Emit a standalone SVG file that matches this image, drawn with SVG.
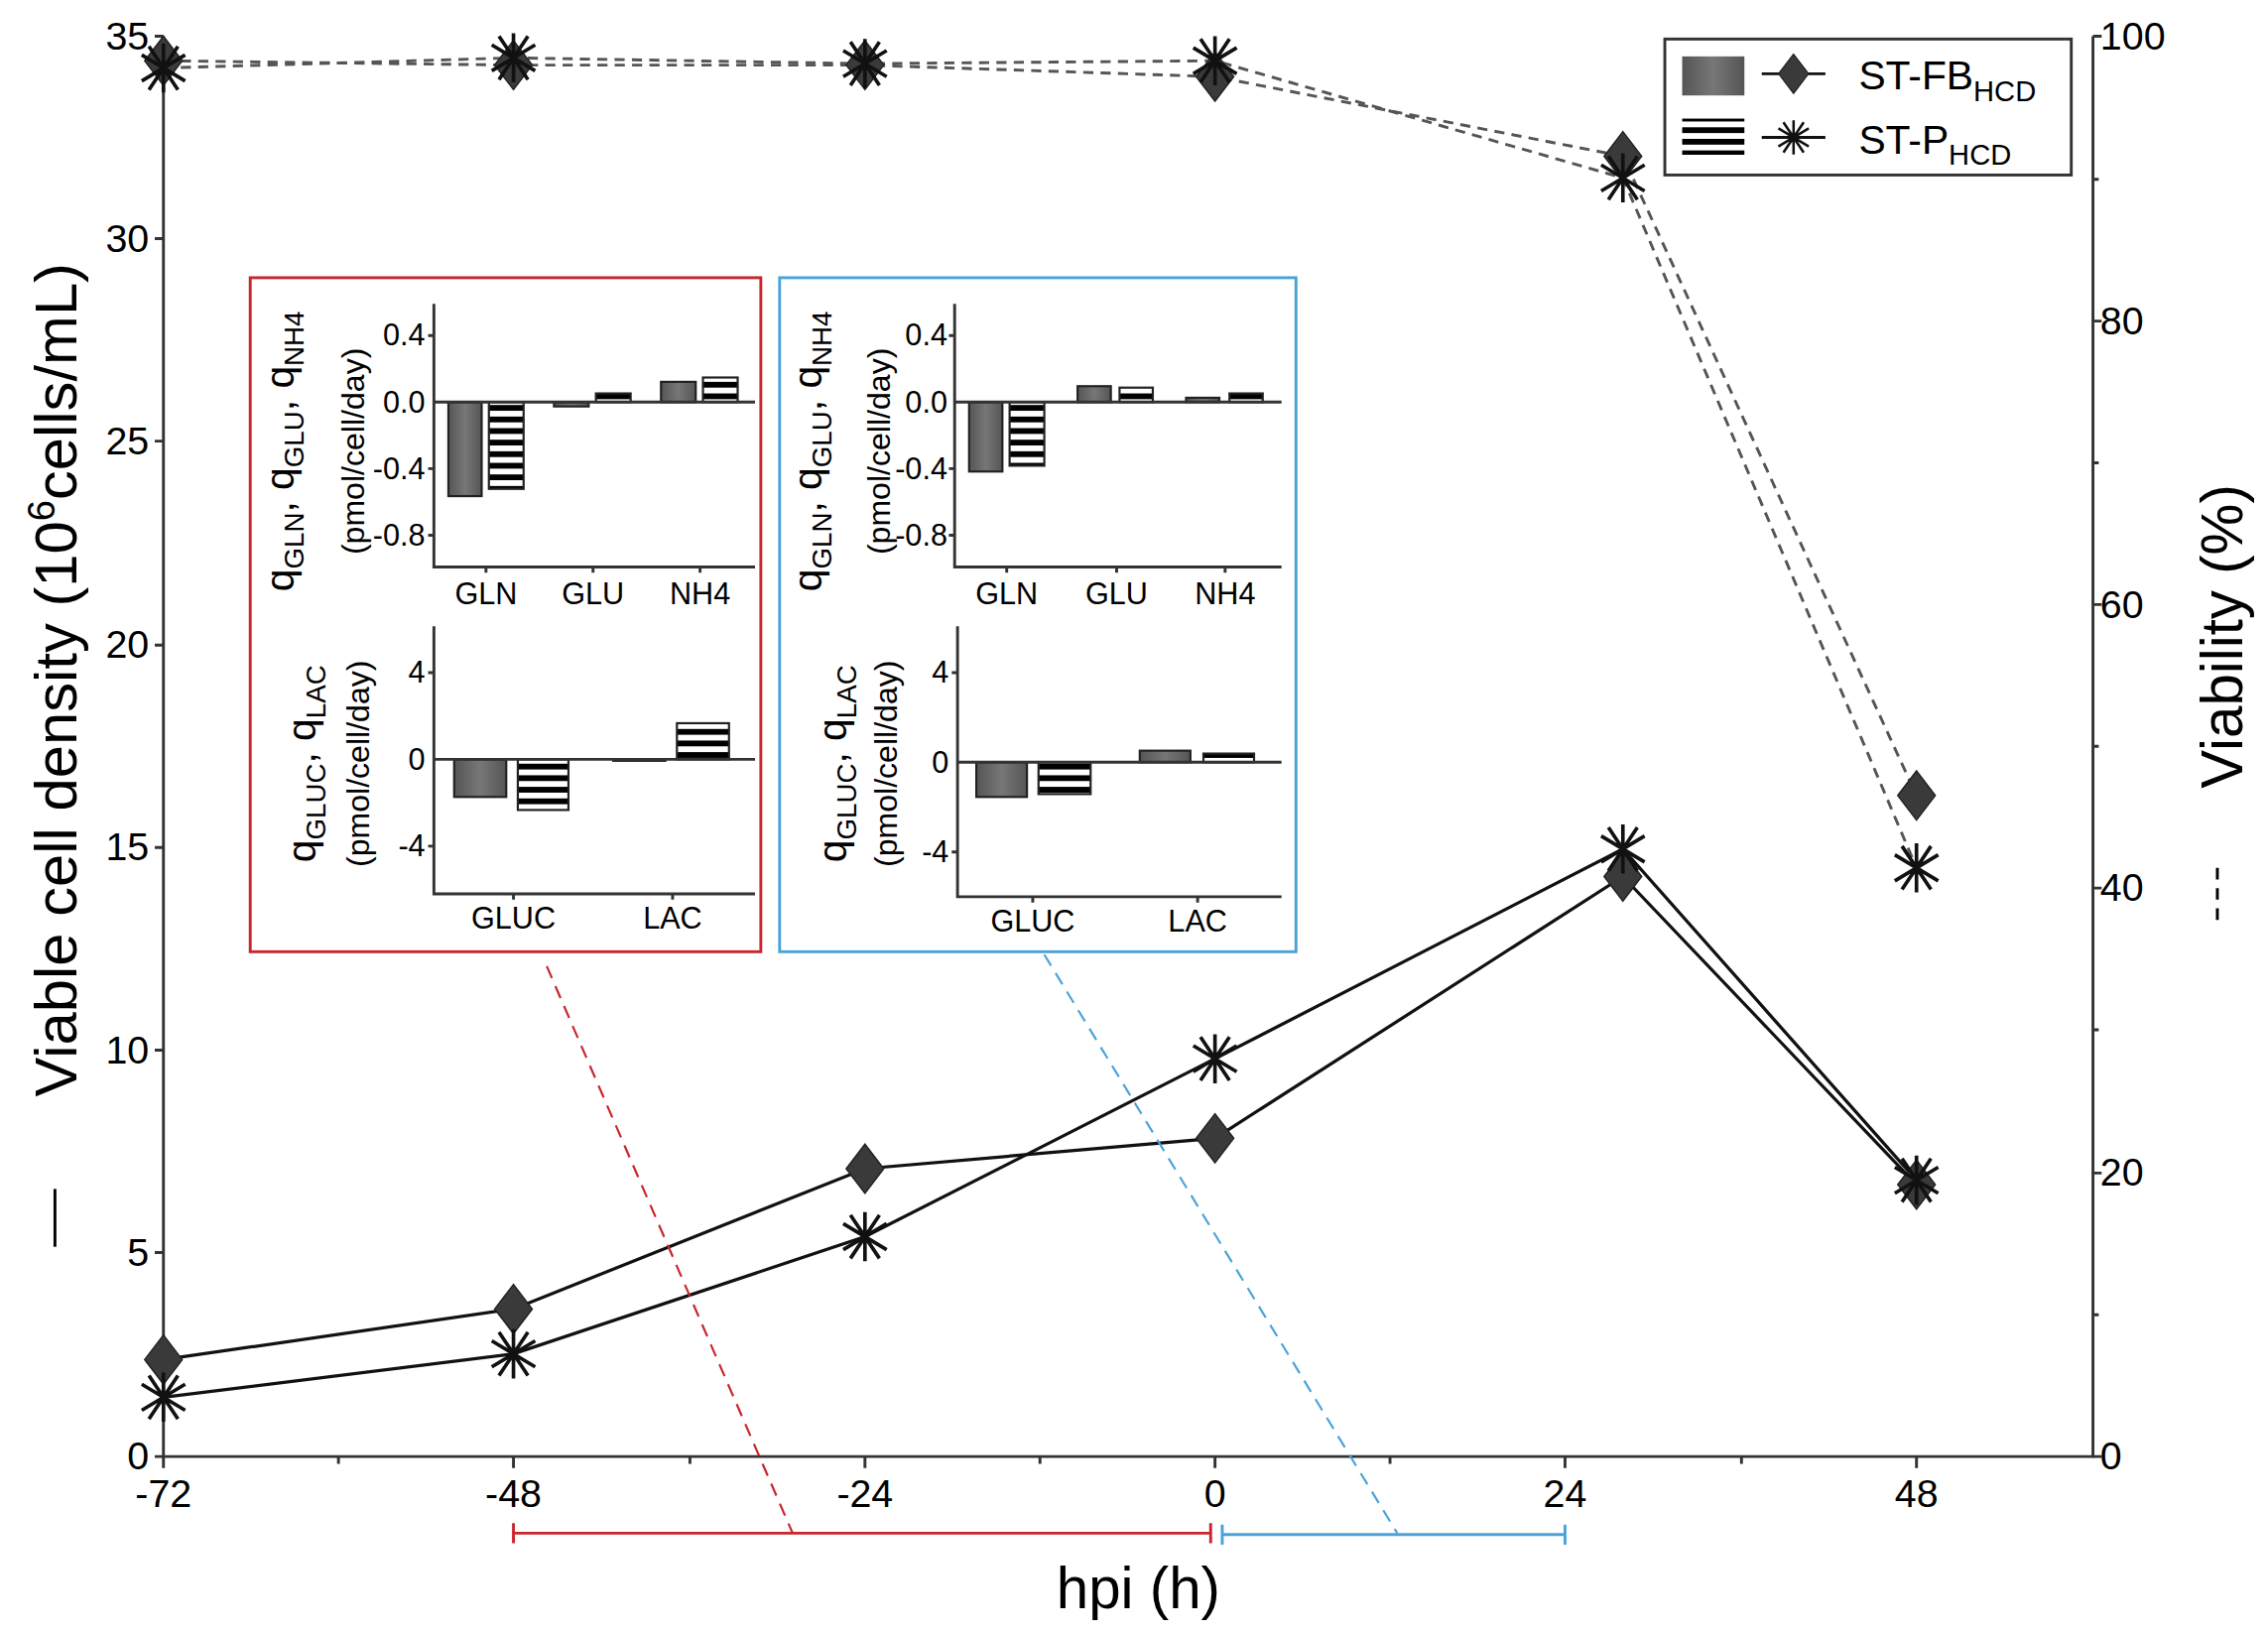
<svg xmlns="http://www.w3.org/2000/svg" width="2286" height="1647" viewBox="0 0 2286 1647">
<style>
text{font-family:"Liberation Sans",Arial,sans-serif;fill:#000}
.tk{font-size:27px}
.it{font-size:21px}
.ax{stroke:#333;stroke-width:2;fill:none}
.vcd{stroke:#111;stroke-width:2.2;fill:none}
.via{stroke:#555;stroke-width:2;fill:none;stroke-dasharray:7 5}
.bar{stroke:#222;stroke-width:1.5}
</style>
<defs>
<pattern id="st" width="10" height="8" patternUnits="userSpaceOnUse"><rect width="10" height="8" fill="#fff"/><rect width="10" height="4" fill="#000"/></pattern>
<linearGradient id="gr" x1="0" y1="0" x2="1" y2="0"><stop offset="0" stop-color="#555"/><stop offset="0.5" stop-color="#777"/><stop offset="1" stop-color="#555"/></linearGradient>
<path id="dm" d="M0,-17 L13,0 L0,17 L-13,0Z" fill="#3a3a3a" stroke="#222" stroke-width="1"/>
<path id="as" d="M0,-17V17M-15,-9L15,9M-15,9L15,-9M-10,-15L10,15M-10,15L10,-15" stroke="#111" stroke-width="2.5" fill="none"/>
</defs>
<rect width="2286" height="1647" fill="#fff"/>
<g transform="scale(1.4579)">
<g id="axes">
<path class="ax" d="M113,25V1007H1447V25"/>
<path class="ax" d="M113,1007h-6M113,866h-6M113,726h-6M113,586h-6M113,446h-6M113,305h-6M113,165h-6M113,25h-6"/>
<path class="ax" d="M1447,1007h6M1447,811h6M1447,614h6M1447,418h6M1447,222h6M1447,25h6M1447,909h4M1447,712h4M1447,516h4M1447,320h4M1447,124h4"/>
<path class="ax" d="M113,1007v8M355,1007v8M598,1007v8M840,1007v8M1082,1007v8M1325,1007v8M234,1007v5M477,1007v5M719,1007v5M961,1007v5M1204,1007v5"/>
<g class="tk" text-anchor="end">
<text x="103" y="1016">0</text><text x="103" y="875">5</text><text x="103" y="735">10</text><text x="103" y="595">15</text><text x="103" y="455">20</text><text x="103" y="314">25</text><text x="103" y="174">30</text><text x="103" y="34">35</text></g>
<g class="tk">
<text x="1452" y="1016">0</text><text x="1452" y="820">20</text><text x="1452" y="623">40</text><text x="1452" y="427">60</text><text x="1452" y="231">80</text><text x="1452" y="34">100</text></g>
<g class="tk" text-anchor="middle">
<text x="113" y="1042">-72</text><text x="355" y="1042">-48</text><text x="598" y="1042">-24</text><text x="840" y="1042">0</text><text x="1082" y="1042">24</text><text x="1325" y="1042">48</text></g>
<text x="787" y="1112" font-size="40" text-anchor="middle">hpi (h)</text>
<path d="M38,822V862" stroke="#000" stroke-width="2"/>
<text transform="translate(53,470) rotate(-90)" font-size="41" text-anchor="middle">Viable cell density (10<tspan font-size="26" dy="-15">6</tspan><tspan dy="15">cells/mL)</tspan></text>
<path d="M1533,600V642" stroke="#000" stroke-width="2" stroke-dasharray="8 6"/>
<text transform="translate(1550,440) rotate(-90)" font-size="40" text-anchor="middle">Viability (%)</text>
</g>
<g id="connectors">
<path class="via" d="M113,42L355,45L598,45L840,53L1122,108L1325,550"/>
<path class="via" d="M113,47L355,40L598,44L840,42L1122,123L1325,600"/>
<path class="vcd" d="M113,940L355,905L598,808L840,787L1122,606L1325,819"/>
<path class="vcd" d="M113,966L355,936L598,855L840,732L1122,587L1325,816"/>
<path d="M378,668L548,1060" stroke="#c8262e" stroke-width="1.5" stroke-dasharray="9 6"/>
<path d="M722,660L966,1060" stroke="#4aa3d8" stroke-width="1.5" stroke-dasharray="9 6"/>
<path d="M355,1060H837M355,1053v14M837,1053v14" stroke="#c8262e" stroke-width="2"/>
<path d="M845,1061H1082M845,1054v14M1082,1054v14" stroke="#4aa3d8" stroke-width="2"/>
</g>
<g id="markers">
<use href="#dm" x="113" y="940"/><use href="#dm" x="355" y="905"/><use href="#dm" x="598" y="808"/><use href="#dm" x="840" y="787"/><use href="#dm" x="1122" y="606"/><use href="#dm" x="1325" y="819"/>
<use href="#as" x="113" y="966"/><use href="#as" x="355" y="936"/><use href="#as" x="598" y="855"/><use href="#as" x="840" y="732"/><use href="#as" x="1122" y="587"/><use href="#as" x="1325" y="816"/>
<use href="#dm" x="113" y="42"/><use href="#dm" x="355" y="45"/><use href="#dm" x="598" y="45"/><use href="#dm" x="840" y="53"/><use href="#dm" x="1122" y="108"/><use href="#dm" x="1325" y="550"/>
<use href="#as" x="113" y="47"/><use href="#as" x="355" y="40"/><use href="#as" x="598" y="44"/><use href="#as" x="840" y="42"/><use href="#as" x="1122" y="123"/><use href="#as" x="1325" y="600"/>
</g>
<g id="legend">
<rect x="1151" y="27" width="281" height="94" fill="#fff" stroke="#333" stroke-width="2"/>
<rect x="1163" y="39" width="43" height="27" fill="url(#gr)"/>
<rect x="1163" y="82" width="43" height="25" fill="url(#st)"/>
<path d="M1218,51H1262M1218,95H1262" stroke="#111" stroke-width="2"/>
<use href="#dm" x="1240" y="51" transform="translate(1240,51) scale(0.8) translate(-1240,-51)"/>
<use href="#as" x="1240" y="95" transform="translate(1240,95) scale(0.7) translate(-1240,-95)"/>
<text x="1285" y="62" font-size="28">ST-FB<tspan font-size="20" dy="8">HCD</tspan></text>
<text x="1285" y="106" font-size="28">ST-P<tspan font-size="20" dy="8">HCD</tspan></text>
</g>
<g id="inset-red">
<rect x="173" y="192" width="353" height="466" fill="#fff" stroke="#c8262e" stroke-width="2"/>
<rect class="bar" x="310" y="278" width="23" height="65" fill="url(#gr)"/>
<rect class="bar" x="338" y="278" width="24" height="60" fill="url(#st)"/>
<rect class="bar" x="383" y="278" width="24" height="3" fill="url(#gr)"/>
<rect class="bar" x="412" y="272" width="24" height="6" fill="url(#st)"/>
<rect class="bar" x="457" y="264" width="24" height="14" fill="url(#gr)"/>
<rect class="bar" x="486" y="261" width="24" height="17" fill="url(#st)"/>
<path class="ax" d="M300,210V392H522M300,278H522M300,232h-4M300,324h-4M300,370h-4M336,392v4M410,392v4M484,392v4"/>
<g class="it" text-anchor="end"><text x="294" y="239">0.4</text><text x="294" y="285">0.0</text><text x="294" y="331">-0.4</text><text x="294" y="377">-0.8</text></g>
<g class="it" text-anchor="middle"><text x="336" y="418">GLN</text><text x="410" y="418">GLU</text><text x="484" y="418">NH4</text></g>
<text transform="translate(203,312) rotate(-90)" font-size="28" text-anchor="middle">q<tspan font-size="19" dy="7">GLN</tspan><tspan dy="-7">, q</tspan><tspan font-size="19" dy="7">GLU</tspan><tspan dy="-7">, q</tspan><tspan font-size="19" dy="7">NH4</tspan></text>
<text transform="translate(252,312) rotate(-90)" font-size="22" text-anchor="middle">(pmol/cell/day)</text>
<rect class="bar" x="314" y="525" width="36" height="26" fill="url(#gr)"/>
<rect class="bar" x="358" y="525" width="35" height="35" fill="url(#st)"/>
<rect class="bar" x="424" y="525" width="36" height="1" fill="url(#gr)"/>
<rect class="bar" x="468" y="500" width="36" height="25" fill="url(#st)"/>
<path class="ax" d="M300,433V618H522M300,525H522M300,465h-4M300,585h-4M355,618v4M465,618v4"/>
<g class="it" text-anchor="end"><text x="294" y="472">4</text><text x="294" y="532">0</text><text x="294" y="592">-4</text></g>
<g class="it" text-anchor="middle"><text x="355" y="642">GLUC</text><text x="465" y="642">LAC</text></g>
<text transform="translate(218,528) rotate(-90)" font-size="28" text-anchor="middle">q<tspan font-size="19" dy="7">GLUC</tspan><tspan dy="-7">, q</tspan><tspan font-size="19" dy="7">LAC</tspan></text>
<text transform="translate(255,528) rotate(-90)" font-size="22" text-anchor="middle">(pmol/cell/day)</text>
</g>
<g id="inset-blue">
<rect x="539" y="192" width="357" height="466" fill="#fff" stroke="#4aa3d8" stroke-width="2"/>
<rect class="bar" x="670" y="278" width="23" height="48" fill="url(#gr)"/>
<rect class="bar" x="698" y="278" width="24" height="44" fill="url(#st)"/>
<rect class="bar" x="745" y="267" width="23" height="11" fill="url(#gr)"/>
<rect class="bar" x="774" y="268" width="23" height="10" fill="url(#st)"/>
<rect class="bar" x="820" y="275" width="23" height="3" fill="url(#gr)"/>
<rect class="bar" x="850" y="272" width="23" height="6" fill="url(#st)"/>
<path class="ax" d="M660,210V392H886M660,278H886M660,232h-4M660,324h-4M660,370h-4M696,392v4M772,392v4M847,392v4"/>
<g class="it" text-anchor="end"><text x="655" y="239">0.4</text><text x="655" y="285">0.0</text><text x="655" y="331">-0.4</text><text x="655" y="377">-0.8</text></g>
<g class="it" text-anchor="middle"><text x="696" y="418">GLN</text><text x="772" y="418">GLU</text><text x="847" y="418">NH4</text></g>
<text transform="translate(568,312) rotate(-90)" font-size="28" text-anchor="middle">q<tspan font-size="19" dy="7">GLN</tspan><tspan dy="-7">, q</tspan><tspan font-size="19" dy="7">GLU</tspan><tspan dy="-7">, q</tspan><tspan font-size="19" dy="7">NH4</tspan></text>
<text transform="translate(615,312) rotate(-90)" font-size="22" text-anchor="middle">(pmol/cell/day)</text>
<rect class="bar" x="675" y="527" width="35" height="24" fill="url(#gr)"/>
<rect class="bar" x="718" y="527" width="36" height="22" fill="url(#st)"/>
<rect class="bar" x="788" y="519" width="35" height="8" fill="url(#gr)"/>
<rect class="bar" x="832" y="521" width="35" height="6" fill="url(#st)"/>
<path class="ax" d="M662,433V620H886M662,527H886M662,465h-4M662,589h-4M714,620v4M828,620v4"/>
<g class="it" text-anchor="end"><text x="656" y="472">4</text><text x="656" y="534">0</text><text x="656" y="596">-4</text></g>
<g class="it" text-anchor="middle"><text x="714" y="644">GLUC</text><text x="828" y="644">LAC</text></g>
<text transform="translate(585,528) rotate(-90)" font-size="28" text-anchor="middle">q<tspan font-size="19" dy="7">GLUC</tspan><tspan dy="-7">, q</tspan><tspan font-size="19" dy="7">LAC</tspan></text>
<text transform="translate(620,528) rotate(-90)" font-size="22" text-anchor="middle">(pmol/cell/day)</text>
</g>
</g>
</svg>
